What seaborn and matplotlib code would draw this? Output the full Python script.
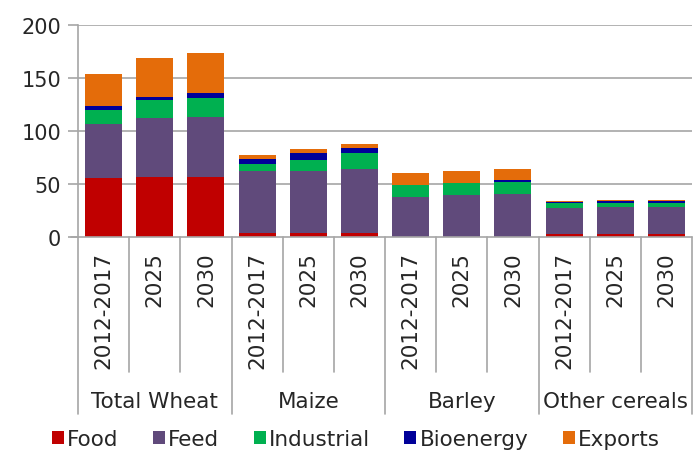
import numpy as np
import pandas as pd
import matplotlib
matplotlib.use("Agg")
import matplotlib.pyplot as plt
import seaborn as sns
from matplotlib.patches import Patch

groups = ["Total Wheat", "Maize", "Barley", "Other cereals"]
periods = ["2012-2017", "2025", "2030"]
series = ["Food", "Feed", "Industrial", "Bioenergy", "Exports"]
colors = ["#C00000", "#604A7B", "#00B050", "#000099", "#E46C0A"]

food       = [56, 57, 57,   4, 4, 4,      0, 0, 0,        2.5, 2.5, 2.5]
feed       = [51, 55, 56,  58, 58, 60.5,  38, 39.3, 40.6, 24.5, 25.8, 25.8]
industrial = [13, 17, 18,   7, 11, 14.5,  11, 12, 11.7,   5, 4.2, 4.2]
bioenergy  = [4, 3.5, 5,    5, 6, 5,      0, 0, 1.2,      1.4, 1.4, 1.4]
exports    = [30, 36, 38,   3, 4, 3.5,    11, 11, 11,     0.9, 0.9, 0.9]

sns.set_style("white")
plt.rcParams['font.family'] = ['DejaVu Sans']

labels = [f"{g}|{p}" for g in groups for p in periods]
vals = np.array([food, feed, industrial, bioenergy, exports])
cum = np.cumsum(vals, axis=0)

fig = plt.figure(figsize=(6.99, 4.52), dpi=100)
ax = fig.add_axes([78/699, 1-238/452, (692-78)/699, 212/452])

gridc = "#A6A6A6"
txtc = "#262626"
for y in [50, 100, 150, 200]:
    ax.axhline(y, color=gridc, lw=1.2, zorder=0)

for i in range(len(series)-1, -1, -1):
    df = pd.DataFrame({"slot": labels, "value": cum[i]})
    sns.barplot(data=df, x="slot", y="value", order=labels, color=colors[i],
                saturation=1, width=0.72, edgecolor="none", linewidth=0,
                ax=ax, zorder=2)

ax.set_xlim(-0.5, 11.5)
ax.set_ylim(0, 200)
ax.set_yticks([0, 50, 100, 150, 200])
ax.set_yticklabels(["0", "50", "100", "150", "200"], fontsize=15, color=txtc)
ax.tick_params(axis="y", length=7, color=gridc, width=1.2, pad=5, left=True)
ax.set_xticks([])
ax.set_xlabel("")
ax.set_ylabel("")
for s in ["top", "right", "bottom"]:
    ax.spines[s].set_visible(False)
ax.spines["left"].set_color(gridc)
ax.spines["left"].set_linewidth(1.2)

trans = ax.get_xaxis_transform()
ax.plot([-0.5 - 7/51.2, 11.5], [0, 0], transform=trans, color=gridc, lw=1.2, clip_on=False, zorder=3)
y_year = (238-373)/212
y_grp = (238-415)/212
for k in range(13):
    xb = k - 0.5
    yb = y_grp if k % 3 == 0 else y_year
    ax.plot([xb, xb], [0, yb], transform=trans, color=gridc, lw=1.2, clip_on=False)

for i, lab in enumerate(labels):
    p = lab.split("|")[1]
    ax.text(i, (238-252)/212, p, transform=trans, rotation=90, ha="center", va="top",
            fontsize=15.5, color=txtc)
for gi, g in enumerate(groups):
    ax.text(gi*3+1, (238-402)/212, g, transform=trans, ha="center", va="center",
            fontsize=15.5, color=txtc)

handles = [Patch(facecolor=c, edgecolor="none", label=s) for s, c in zip(series, colors)]
fig.legend(handles=handles, loc="center", bbox_to_anchor=(356/699, 1-440/452), ncol=5,
           frameon=False, fontsize=15.5, handlelength=0.55, handleheight=0.55,
           handletextpad=0.15, columnspacing=1.6, labelcolor=txtc)

fig.savefig("out.png", dpi=100)
